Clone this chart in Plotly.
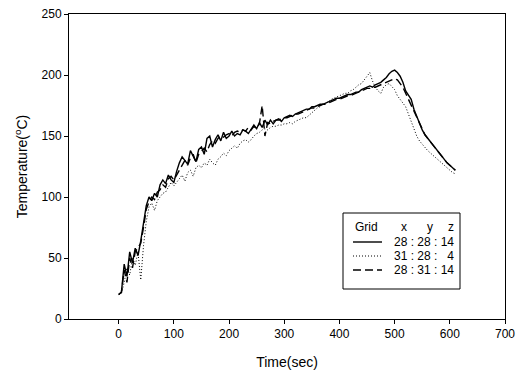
import plotly.graph_objects as go

time = [0, 5, 10, 15, 20, 25, 30, 35, 40, 45, 50, 55, 60, 65, 70, 75, 80, 85, 90, 95,
        100, 105, 110, 115, 120, 125, 130, 135, 140, 145, 150, 155, 160, 165, 170, 175, 180, 185, 190, 195,
        200, 205, 210, 215, 220, 225, 230, 235, 240, 245, 250, 255, 260, 265, 270, 275, 280, 285, 290, 295,
        300, 305, 310, 315, 320, 325, 330, 335, 340, 345, 350, 355, 360, 365, 370, 375, 380, 385, 390, 395,
        400, 405, 410, 415, 420, 425, 430, 435, 440, 445, 450, 455, 460, 465, 470, 475, 480, 485, 490, 495,
        500, 505, 510, 515, 520, 525, 530, 535, 540, 545, 550, 555, 560, 565, 570, 575, 580, 585, 590, 595,
        600, 605, 610]

grid_a = [20, 22, 45, 35, 55, 46, 58, 52, 64, 80, 93, 100, 97, 103, 100, 110, 114, 111, 118, 114,
          112, 121, 128, 133, 130, 127, 138, 133, 129, 139, 141, 135, 148, 150, 141, 147, 151, 146, 153, 148,
          150, 154, 150, 152, 151, 155, 154, 152, 156, 159, 156, 161, 157, 163, 159, 163, 160, 163, 164, 162,
          165, 166, 167, 166, 168, 169, 170, 171, 172, 172, 174, 174, 175, 176, 176, 177, 178, 179, 180, 181,
          181, 182, 183, 184, 184, 185, 186, 186, 188, 189, 190, 191, 190, 192, 193, 194, 196, 198, 201, 203,
          204, 202, 199, 194, 187, 183, 180, 172, 166, 160, 155, 151, 148, 146, 143, 140, 137, 134, 131, 128,
          126, 124, 122]

grid_b = [20, 21, 30, 42, 36, 50, 44, 55, 32, 60, 80, 92, 95, 89, 97, 100, 103, 104, 108, 112,
          109, 112, 116, 118, 113, 120, 122, 117, 124, 126, 124, 128, 126, 131, 128, 126, 131, 133, 136, 134,
          138, 140, 142, 140, 144, 146, 147, 145, 147, 150, 152, 153, 155, 156, 155, 157, 158, 158, 159, 159,
          160, 160, 161, 160, 162, 163, 164, 165, 165, 167, 169, 171, 173, 174, 176, 177, 178, 180, 181, 182,
          183, 184, 185, 185, 187, 188, 190, 192, 193, 196, 199, 202, 195, 190, 187, 185, 190, 192, 193, 190,
          188, 183, 180, 178, 174, 168, 162, 155, 150, 146, 143, 140, 138, 136, 134, 132, 130, 128, 126, 124,
          122, 120, 119]

grid_c = [20, 22, 40, 30, 50, 42, 55, 58, 62, 75, 90, 96, 100, 98, 104, 106, 110, 108, 115, 117,
          114, 118, 122, 125, 130, 126, 132, 135, 128, 135, 138, 140, 137, 143, 146, 144, 148, 150, 149, 151,
          152, 150, 153, 154, 153, 155, 154, 157, 155, 158, 156, 160, 175, 150, 161, 160, 162, 163, 163, 164,
          165, 165, 166, 167, 168, 168, 169, 170, 171, 172, 173, 173, 174, 175, 176, 176, 177, 178, 179, 180,
          180, 181, 182, 183, 183, 184, 185, 186, 187, 188, 189, 189, 190, 190, 191, 192, 193, 194, 195, 196,
          197, 196, 193, 190, 185, 180, 175, 170, 165, 160, 155, 151, 148, 145, 142, 139, 136, 133, 130, 128,
          126, 124, 122]

names = ["28\u00a0:\u00a028\u00a0:\u00a014", "31\u00a0:\u00a028\u00a0:\u00a0\u00a0\u00a04", "28\u00a0:\u00a031\u00a0:\u00a014"]
header = ["Grid", "x", "y", "z"]
series = [grid_a, grid_b, grid_c]
dashes = ["solid", "1px,2px", "8px,4px"]
widths = [1.4, 1.0, 1.4]

fig = go.Figure()
for nm, ys, ds, w in zip(names, series, dashes, widths):
    fig.add_trace(go.Scatter(x=time, y=ys, mode="lines", name=nm, showlegend=False,
                             line=dict(color="black", dash=ds, width=w)))

axis_common = dict(showline=True, linecolor="black", linewidth=1, mirror=True,
                   ticks="outside", ticklen=4, tickcolor="black", showgrid=False,
                   zeroline=False, automargin=False, tickfont=dict(size=12, color="black"))

fig.update_xaxes(range=[-90, 700], tickvals=[0, 100, 200, 300, 400, 500, 600, 700],
                 title=dict(text="Time(sec)", font=dict(size=14, color="black"), standoff=16),
                 **axis_common)
fig.update_yaxes(range=[0, 250], tickvals=[0, 50, 100, 150, 200, 250],
                 title=dict(text="Temperature(<sup>o</sup>C)", font=dict(size=14, color="black"), standoff=10),
                 **axis_common)

# manual legend (paper coordinates of the plot area)
def px_x(p):
    return (p - 69) / 436.0

def px_y(p):
    return (319 - p) / 305.0

fig.add_shape(type="rect", xref="paper", yref="paper",
              x0=px_x(343), x1=px_x(460), y0=px_y(289), y1=px_y(213),
              line=dict(color="black", width=1), fillcolor="white", layer="above")

hdr_y = px_y(227)
for txt, xp, anc in zip(header, [353, 404, 430, 451], ["left", "center", "center", "center"]):
    fig.add_annotation(xref="paper", yref="paper", x=px_x(xp), y=hdr_y, text=txt,
                       showarrow=False, xanchor=anc, yanchor="middle",
                       font=dict(size=12, color="black"))

row_ys = [242, 256, 270]
for nm, ds, w, ry in zip(names, dashes, widths, row_ys):
    fig.add_shape(type="line", xref="paper", yref="paper",
                  x0=px_x(353), x1=px_x(382), y0=px_y(ry), y1=px_y(ry),
                  line=dict(color="black", width=w, dash=ds), layer="above")
    fig.add_annotation(xref="paper", yref="paper", x=px_x(456), y=px_y(ry), text=nm,
                       showarrow=False, xanchor="right", yanchor="middle",
                       font=dict(size=12, color="black"))

fig.update_layout(
    width=525, height=371,
    margin=dict(l=69, r=20, t=14, b=52, autoexpand=False),
    paper_bgcolor="white", plot_bgcolor="white",
    font=dict(family="Liberation Sans, Arial, sans-serif", color="black"),
    showlegend=False,
)

fig.write_html("out.html")
